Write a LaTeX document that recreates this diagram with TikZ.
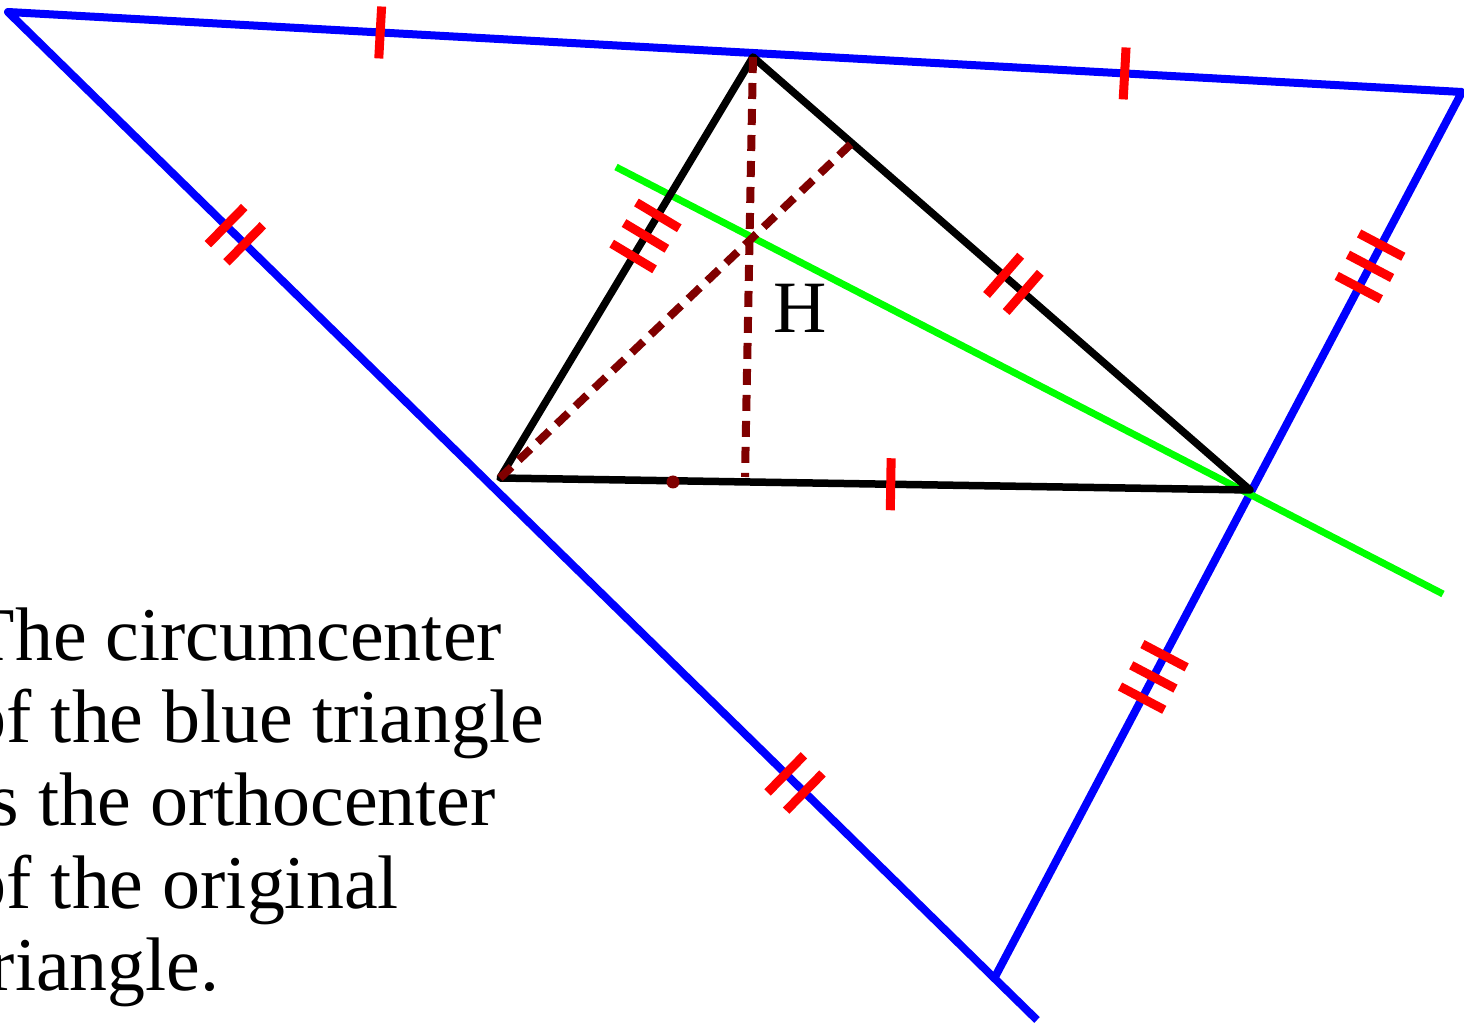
\documentclass[tikz,border=0pt]{standalone}
\usepackage{fontspec}
\setmainfont{Liberation Serif}
\usetikzlibrary{decorations.markings}
\definecolor{darkred}{RGB}{128,0,0}

\begin{document}
\begin{tikzpicture}[
  x=0.1mm, y=-0.1mm,
  blueside/.style={blue, line width=0.8mm, line join=round},
  blackside/.style={black, line width=0.75mm, line join=round},
  greenline/.style={green, line width=0.7mm},
  altitude/.style={darkred, line width=0.8mm, dash pattern=on 1.6mm off 1mm},
  dot/.style={circle, fill=darkred, inner sep=0pt, minimum size=1.3mm},
  tickmark/.style={red, line width=0.9mm},
  onetick/.style={postaction={decorate, decoration={markings,
      mark=at position #1 with {\draw[tickmark] (0,-2.6mm) -- (0,2.6mm);}}}},
  twotick/.style={postaction={decorate, decoration={markings,
      mark=at position #1 with {\draw[tickmark] (-1.3mm,-2.6mm) -- (-1.3mm,2.6mm)
        (1.3mm,-2.6mm) -- (1.3mm,2.6mm);}}}},
  threetick/.style={postaction={decorate, decoration={markings,
      mark=at position #1 with {\draw[tickmark] (-2.4mm,-2.5mm) -- (-2.4mm,2.5mm)
        (0,-2.5mm) -- (0,2.5mm) (2.4mm,-2.5mm) -- (2.4mm,2.5mm);}}}}
]
\useasboundingbox (0,0) rectangle (1464,1024);

% ---------- blue triangle ----------
\coordinate (P1) at (8,12);
\coordinate (P2) at (1462,92);
\coordinate (P3) at (995,977);
\coordinate (E)  at (1037,1020);

\draw[blueside] (E) -- (P1) -- (P2) -- (P3);

% ---------- original triangle ----------
\coordinate (A) at (500,478);
\coordinate (B) at (753,57);
\coordinate (C) at (1250,490);
\coordinate (FB) at (745,477);
\coordinate (FA) at (852,143);
\coordinate (G1) at (616,167);
\coordinate (G2) at (1443,594);

\draw[greenline] (G1) -- (G2);
\draw[blackside] (A) -- (B) -- (C) -- cycle;
\draw[altitude] (B) -- (FB);
\draw[altitude] (A) -- (FA);
\node[dot] (D) at (673,482) {};

% ---------- equal parts ----------
\path[onetick=0.256, onetick=0.768] (P1) -- (P2);
\path[twotick=0.221, twotick=0.765] (P1) -- (E);
\path[threetick=0.197, threetick=0.661] (P2) -- (P3);
\path[threetick=0.575] (A) -- (B);
\path[twotick=0.524] (B) -- (C);
\path[onetick=0.521] (A) -- (C);

% ---------- labels ----------
\node[inner sep=0pt, font=\fontsize{21pt}{23pt}\selectfont] (Hlabel) at (800,308) {H};
\node[anchor=north west, align=left, inner sep=0pt,
  font=\fontsize{21.6pt}{23.5pt}\selectfont] (caption) at (-32,607)
  {The circumcenter\\of the blue triangle\\is the orthocenter\\of the original\\triangle.};

\end{tikzpicture}
\end{document}
